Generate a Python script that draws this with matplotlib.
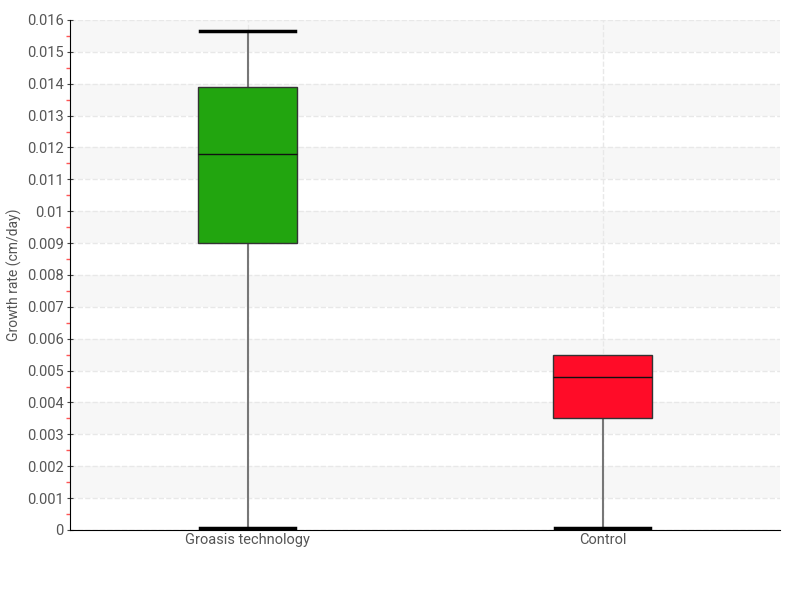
import numpy as np
import matplotlib.pyplot as plt
from matplotlib.ticker import MultipleLocator

# box statistics
groups = ['Groasis technology', 'Control']
whislo = [0.00005, 0.00005]
q1 = [0.0090, 0.0035]
med = [0.0118, 0.0048]
q3 = [0.0139, 0.0055]
whishi = [0.01565, 0.0055]
colors = ['#22a50f', '#ff0c28']

plt.rcParams['font.family'] = ['Roboto', 'DejaVu Sans']

fig = plt.figure(figsize=(8, 6), dpi=100)
ax = fig.add_axes([0.0875, 0.1167, 0.8875, 0.85])

stats = []
for i, g in enumerate(groups):
    stats.append(dict(label=g, whislo=whislo[i], q1=q1[i], med=med[i],
                      q3=q3[i], whishi=whishi[i], fliers=[]))

# alternating bands
for k in range(1, 16, 2):
    ax.axhspan(k * 0.001, (k + 1) * 0.001, color='#f7f7f7', zorder=0, lw=0)

bp = ax.bxp(stats, positions=[0, 1], widths=0.28, patch_artist=True,
            showfliers=False,
            boxprops=dict(edgecolor='#333333', linewidth=1),
            medianprops=dict(color='#111111', linewidth=1),
            whiskerprops=dict(color='#777777', linewidth=1.5),
            capprops=dict(color='black', linewidth=2.5),
            capwidths=0.27)
for patch, c in zip(bp['boxes'], colors):
    patch.set_facecolor(c)
    patch.set_zorder(3)
for m in bp['medians']:
    m.set_zorder(4)
# control has no upper whisker
bp['caps'][3].set_visible(False)
bp['whiskers'][3].set_visible(False)

ax.set_xlim(-0.5, 1.5)
ax.set_ylim(0, 0.016)
ax.yaxis.set_minor_locator(MultipleLocator(0.0005))
ax.set_yticks(np.arange(0, 0.0161, 0.001))
ax.set_yticklabels(['0' if v == 0 else ('%.3f' % (v / 1000)).rstrip('0') for v in range(17)])

ax.grid(axis='y', which='major', color='#e8e8e8', linestyle='--', linewidth=1, zorder=1)
ax.grid(axis='x', which='major', color='#e8e8e8', linestyle='--', linewidth=1, zorder=1)
ax.set_axisbelow(True)

ax.tick_params(axis='y', which='major', direction='inout', length=5, color='#444444',
               labelsize=10.5, labelcolor='#555555', pad=2)
ax.tick_params(axis='y', which='minor', direction='out', length=3, width=1, color='#ff5555')
ax.tick_params(axis='x', length=0, labelsize=10.5, labelcolor='#555555', pad=2)

for s in ['top', 'right']:
    ax.spines[s].set_visible(False)

ax.set_ylabel('Growth rate (cm/day)', fontsize=10, color='#555555')
ax.yaxis.set_label_coords(-0.068, 0.5)

fig.savefig('out.png', dpi=100)
